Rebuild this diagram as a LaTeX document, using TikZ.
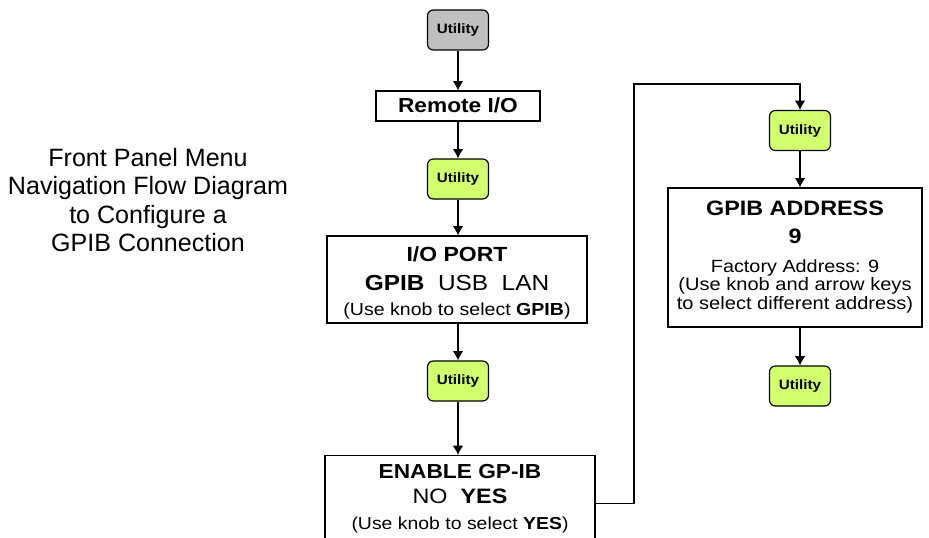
\documentclass[tikz,border=0pt]{standalone}
\usepackage{fontspec}
\setmainfont[FakeStretch=1.12]{Liberation Sans}
\newfontfamily\titlefont{Liberation Sans}
\usetikzlibrary{arrows.meta,positioning}
\definecolor{utilgreen}{RGB}{210,255,110}
\definecolor{utilgray}{RGB}{192,192,192}
\newcommand{\px}{0.03cm}
\newcommand{\fsz}[1]{\fontsize{#1}{#1}\selectfont}
\begin{document}
\begin{tikzpicture}[x=0.03cm, y=-0.03cm, >={Latex[length=8pt,width=9pt]}, line width=1pt,
    utilbox/.style={draw, rectangle, rounded corners=5pt, fill=utilgreen, minimum width=61*\px, minimum height=40*\px, inner sep=0pt, font=\bfseries\fsz{11.6}},
    menubox/.style={draw, rectangle, fill=white, inner sep=0pt},
    boxline/.style={anchor=base, inner sep=0pt},
    flow/.style={->}]
    \useasboundingbox (0,0) rectangle (929,538);
    % Title text
    \node[align=center, font=\titlefont\fontsize{21.4}{24.2}\selectfont] (title) at (148,200)
        {Front Panel Menu\\Navigation Flow Diagram\\to Configure a\\GPIB Connection};
    % Left column
    \node[utilbox, fill=utilgray] (util1) at (458,30) {Utility};
    \node[menubox, minimum width=164*\px, minimum height=30*\px] (remote) at (458,106) {};
    \node[boxline, font=\bfseries\fsz{17.3}] (remote-t) at (458,113) {Remote I/O};
    \node[utilbox] (util2) at (458,179) {Utility};
    \node[menubox, minimum width=260*\px, minimum height=87*\px] (ioport) at (457,279.5) {};
    \node[boxline, font=\bfseries\fsz{17.5}] (ioport-t) at (457,261) {I/O PORT};
    \node[boxline, font=\fsz{18.6}] (ioport-o) at (457,290) {\textbf{GPIB}\ \ USB\ \ LAN};
    \node[boxline, font=\fsz{14.9}] (ioport-h) at (457,315) {(Use knob to select \textbf{GPIB})};
    \node[utilbox] (util3) at (458,381) {Utility};
    \node[menubox, minimum width=270*\px, minimum height=95*\px, anchor=north] (enable) at (460,455) {};
    \node[boxline, font=\bfseries\fsz{17.3}] (enable-t) at (460,478) {ENABLE GP-IB};
    \node[boxline, font=\fsz{17.8}] (enable-o) at (460,503) {NO\ \ \textbf{YES}};
    \node[boxline, font=\fsz{14.8}] (enable-h) at (460,529) {(Use knob to select \textbf{YES})};
    % Right column
    \coordinate (turn) at (634,84);
    \node[utilbox] (util4) at (800,130.5) {Utility};
    \node[menubox, minimum width=254*\px, minimum height=139*\px] (address) at (795,257.5) {};
    \node[boxline, font=\bfseries\fsz{17.8}] (address-t) at (795,215) {GPIB ADDRESS};
    \node[boxline, font=\bfseries\fsz{17.8}] (address-v) at (795,243) {9};
    \node[boxline, font=\fsz{15.1}] (address-f) at (795,272) {Factory Address: 9};
    \node[boxline, font=\fsz{15.3}] (address-h1) at (795,290) {(Use knob and arrow keys};
    \node[boxline, font=\fsz{15.3}] (address-h2) at (795,309) {to select different address)};
    \node[utilbox] (util5) at (800,386) {Utility};
    % Arrows
    \draw[flow] (util1) -- (remote);
    \draw[flow] (remote) -- (util2);
    \draw[flow] (util2) -- (ioport.north -| util2);
    \draw[flow] (ioport.south -| util3) -- (util3);
    \draw[flow] (util3) -- (enable.north -| util3);
    \draw[flow] (enable.east) -| (turn) -| (util4.north);
    \draw[flow] (util4) -- (address.north -| util4);
    \draw[flow] (address.south -| util5) -- (util5);
\end{tikzpicture}
\end{document}
